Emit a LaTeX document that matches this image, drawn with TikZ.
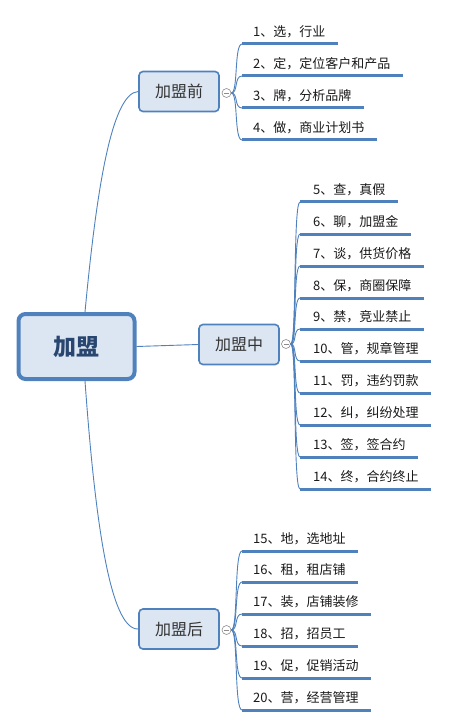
\documentclass[tikz,border=0pt]{standalone}
\usepackage{fontspec}
\setmainfont{Noto Sans CJK SC}
\usetikzlibrary{backgrounds,calc}
\definecolor{lineblue}{RGB}{79,129,189}
\definecolor{boxfill}{RGB}{220,230,242}
\definecolor{roottext}{RGB}{40,70,112}
\definecolor{circgray}{RGB}{140,140,140}
\begin{document}
\begin{tikzpicture}[x=1pt,y=-1pt,
 rootbox/.style={draw=lineblue, line width=4pt, fill=boxfill, rounded corners=7pt, minimum width=116pt, minimum height=65pt, font=\fontsize{23}{26}\selectfont\bfseries, text=roottext, inner sep=0pt},
 midbox/.style={draw=lineblue, line width=1.6pt, fill=boxfill, rounded corners=4pt, minimum width=80pt, minimum height=40pt, font=\fontsize{16}{18}\selectfont, text=black!80, inner sep=0pt},
 leaf/.style={anchor=west, inner sep=0pt, font=\fontsize{13}{15}\selectfont, text=black!90},
 uline/.style={draw=lineblue, line width=3pt},
 branch/.style={draw=lineblue, line width=0.9pt},
 foldmark/.style={circle, draw=circgray, fill=white, line width=0.6pt, minimum size=9pt, inner sep=0pt,
   path picture={\draw[circgray, line width=0.6pt] ([xshift=-2.5pt]path picture bounding box.center) -- ([xshift=2.5pt]path picture bounding box.center);}},
]
\useasboundingbox (0,0) rectangle (450,727);

\node[rootbox] (root) at (76.5,346.5) {加盟};
\node[midbox] (pre) at (179,91.5) {加盟前};
\node[midbox] (mid) at (239,344.5) {加盟中};
\node[midbox] (post) at (179,629) {加盟后};

\node[foldmark] (fm1) at (226.5,93) {};
\node[foldmark] (fm2) at (286,344) {};
\node[foldmark] (fm3) at (226.5,630) {};

\begin{pgfonlayer}{background}
\draw[branch] (85,340) -- (85,312) .. controls (96,195) and (111,93) .. (pre.west);
\draw[branch] (root.east) -- (mid.west);
\draw[branch] (85,350) -- (85,381) .. controls (95,520) and (110,630) .. (post.west);
\end{pgfonlayer}

% group 1
\foreach \i/\yy/\txt in {1/44/{1、选，行业},2/76/{2、定，定位客户和产品},3/108/{3、牌，分析品牌},4/140/{4、做，商业计划书}}{
  \coordinate (ua\i) at (242,\yy);
  \node[leaf] (la\i) at (253,\yy-12.5) {\txt};
  \draw[uline] (ua\i) -- ($(ua\i -| la\i.east)+(12,0)$);
  \draw[branch] (fm1.east) .. controls +(7,0) and +(-8,0) .. (ua\i);
}

% group 2
\foreach \i/\yy/\txt in {5/202/{5、查，真假},6/234/{6、聊，加盟金},7/266/{7、谈，供货价格},8/298/{8、保，商圈保障},9/329/{9、禁，竞业禁止},10/361/{10、管，规章管理},11/393/{11、罚，违约罚款},12/425/{12、纠，纠纷处理},13/457/{13、签，签合约},14/489/{14、终，合约终止}}{
  \coordinate (ub\i) at (300,\yy);
  \node[leaf] (lb\i) at (313,\yy-12.5) {\txt};
  \draw[uline] (ub\i) -- ($(ub\i -| lb\i.east)+(12,0)$);
  \draw[branch] (fm2.east) .. controls +(6,0) and +(-7,0) .. (ub\i);
}

% group 3
\foreach \i/\yy/\txt in {15/551/{15、地，选地址},16/582/{16、租，租店铺},17/614/{17、装，店铺装修},18/646/{18、招，招员工},19/678/{19、促，促销活动},20/710/{20、营，经营管理}}{
  \coordinate (uc\i) at (242,\yy);
  \node[leaf] (lc\i) at (253,\yy-12.5) {\txt};
  \draw[uline] (uc\i) -- ($(uc\i -| lc\i.east)+(12,0)$);
  \draw[branch] (fm3.east) .. controls +(7,0) and +(-8,0) .. (uc\i);
}
\end{tikzpicture}
\end{document}
